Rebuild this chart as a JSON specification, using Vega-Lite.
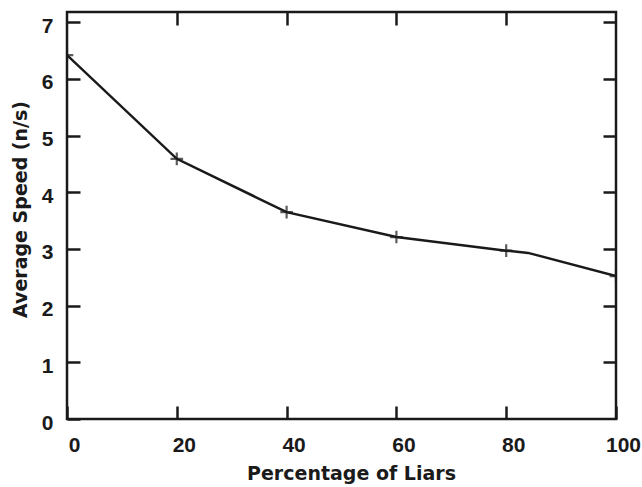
{
  "$schema": "https://vega.github.io/schema/vega-lite/v6.json",
  "autosize": "none",
  "width": 549,
  "height": 407,
  "padding": {"left": 67, "top": 12, "right": 26, "bottom": 68},
  "background": "white",
  "config": {
    "font": "Liberation Sans",
    "view": {"stroke": "#1a1a1a", "strokeWidth": 2.5},
    "axis": {
      "grid": false,
      "domain": false,
      "labelFlush": false,
      "labelOverlap": false,
      "labelBound": false,
      "tickColor": "#1a1a1a",
      "tickWidth": 2.5,
      "tickSize": -13,
      "labelFont": "Liberation Sans",
      "labelFontWeight": "bold",
      "labelFontSize": 21,
      "labelColor": "#1a1a1a",
      "titleFont": "DejaVu Sans",
      "titleFontWeight": "bold",
      "titleFontSize": 19,
      "titleColor": "#1a1a1a"
    }
  },
  "data": {
    "values": [
      {"liars": 0, "speed": 6.42, "marker": true},
      {"liars": 20, "speed": 4.59, "marker": true},
      {"liars": 40, "speed": 3.65, "marker": true},
      {"liars": 60, "speed": 3.21, "marker": true},
      {"liars": 80, "speed": 2.97, "marker": true},
      {"liars": 84, "speed": 2.93, "marker": false},
      {"liars": 100, "speed": 2.52, "marker": true}
    ]
  },
  "layer": [
    {
      "mark": {"type": "line", "color": "#1a1a1a", "strokeWidth": 2.5, "clip": true},
      "encoding": {
        "x": {
          "field": "liars", "type": "quantitative",
          "scale": {"domain": [0, 100], "nice": false, "zero": false},
          "axis": {"orient": "bottom", "values": [0, 20, 40, 60, 80, 100], "title": "Percentage of Liars", "labelPadding": 28, "labelOffset": 7, "titlePadding": 9, "titleX": 284}
        },
        "y": {
          "field": "speed", "type": "quantitative",
          "scale": {"domain": [0, 7.18], "nice": false},
          "axis": {"orient": "left", "values": [0, 1, 2, 3, 4, 5, 6, 7], "title": "Average Speed (n/s)", "labelPadding": 27, "labelOffset": 4, "titlePadding": 11, "titleY": 197}
        }
      }
    },
    {
      "transform": [{"filter": "datum.marker"}],
      "mark": {"type": "point", "shape": "M-1,0H1M0,-1V1", "filled": false, "stroke": "#1a1a1a", "strokeWidth": 2.2, "size": 160, "clip": true},
      "encoding": {
        "x": {"field": "liars", "type": "quantitative", "axis": {"orient": "top", "values": [20, 40, 60, 80], "labels": false, "title": null}},
        "y": {"field": "speed", "type": "quantitative", "axis": {"orient": "right", "values": [1, 2, 3, 4, 5, 6, 7], "labels": false, "title": null}}
      }
    }
  ],
  "resolve": {"axis": {"x": "independent", "y": "independent"}}
}
